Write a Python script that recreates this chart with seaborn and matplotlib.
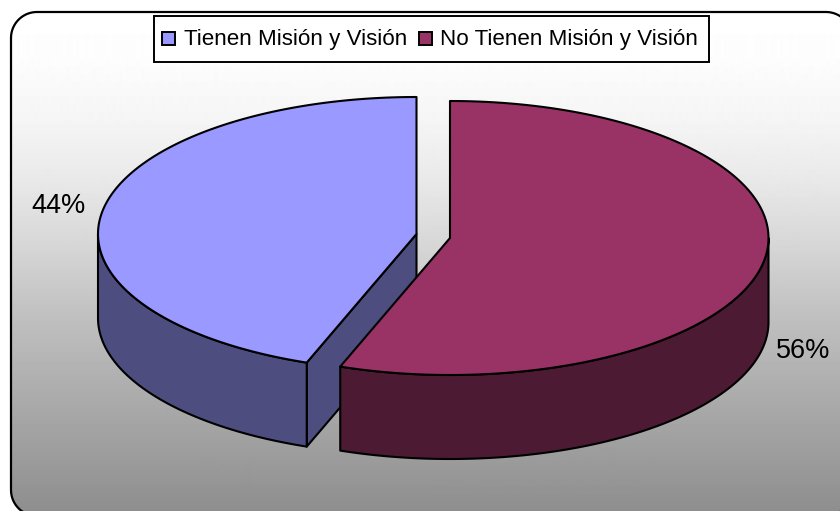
import numpy as np
import pandas as pd
import matplotlib
matplotlib.use('Agg')
import matplotlib.pyplot as plt
from matplotlib.patches import Polygon, Rectangle
import seaborn as sns

labels = ['Tienen Misión y Visión', 'No Tienen Misión y Visión']
values = [44.4, 55.6]
pct_labels = ['44%', '56%']
top_colors = ['#9999FF', '#993366']
side_colors = ['#4D4D80', '#4D1A33']

sns.set_theme(style='white')
plt.rcParams['font.family'] = ['Liberation Sans', 'DejaVu Sans']

W, H = 840, 511
df = pd.DataFrame({'label': labels, 'value': values})

fig = plt.figure(figsize=(W / 100, H / 100), dpi=100)
ax = fig.add_axes([0, 0, 1, 1])
ax.axis('off')


def rounded(x0, y0, x1, y1, r):
    # corners sampled by hand, the curved bbox patch misbehaves past the canvas edge
    out = []
    for cx, cy, a0 in [(x1 - r, y0 + r, 90), (x0 + r, y0 + r, 180), (x0 + r, y1 - r, 270), (x1 - r, y1 - r, 360)]:
        a = np.radians(np.linspace(a0 - 90, a0, 20))
        out.append(np.column_stack([cx + r * np.cos(a), cy - r * np.sin(a)]))
    return np.vstack(out)


# rounded frame with vertical gradient
frame_xy = rounded(11, 12, 852, 516, 26)
grad_y = np.arange(12, 517)
grad_v = np.interp(grad_y, [12, 60, 120, 180, 240, 320, 516], [255, 253, 245, 233, 216, 191, 141]) / 255
im = ax.imshow(grad_v.reshape(-1, 1), extent=(11, 852, 516, 12), cmap='gray', vmin=0, vmax=1,
               aspect='auto', zorder=1)
ax.set_xlim(0, W)
ax.set_ylim(H, 0)
clip = Polygon(frame_xy, closed=True, fc='none', ec='none')
ax.add_patch(clip)
im.set_clip_path(clip)
ax.add_patch(Polygon(frame_xy, closed=True, fc='none', ec='black', lw=1.6, zorder=3))

rx, ry, depth = 318.5, 137, 84
centers = [(416.5, 234), (450, 238)]
fracs = df['value'] / df['value'].sum()
split = np.pi / 2 + 2 * np.pi * fracs[0]


def pt(c, a, dy=0):
    return c[0] + rx * np.cos(a), c[1] - ry * np.sin(a) + dy


def arc(c, a0, a1, dy=0):
    a = np.linspace(a0, a1, 200)
    return np.column_stack([c[0] + rx * np.cos(a), c[1] - ry * np.sin(a) + dy])


kw = dict(ec='black', lw=1.5, joinstyle='round')

# blue slice, 90 deg going counter-clockwise to split
c = centers[0]
ax.add_patch(Polygon(np.vstack([[c], [(c[0], c[1] + depth)], [pt(c, split, depth)], [pt(c, split)]]),
                     fc=side_colors[0], zorder=4, **kw))
ax.add_patch(Polygon(np.vstack([arc(c, np.pi, split), arc(c, split, np.pi, depth)]),
                     fc=side_colors[0], zorder=5, **kw))
ax.add_patch(Polygon(np.vstack([[c], arc(c, np.pi / 2, split)]), fc=top_colors[0], zorder=6, **kw))

# maroon slice, from split going counter-clockwise back to 90 deg
c = centers[1]
ax.add_patch(Polygon(np.vstack([arc(c, split, 2 * np.pi), arc(c, 2 * np.pi, split, depth)]),
                     fc=side_colors[1], zorder=5, **kw))
ax.add_patch(Polygon(np.vstack([[c], arc(c, split, 2.5 * np.pi)]), fc=top_colors[1], zorder=6, **kw))

ax.text(58, 206, pct_labels[0], fontsize=19.5, ha='center', va='center', color='black', zorder=7)
ax.text(803, 351, pct_labels[1], fontsize=19.5, ha='center', va='center', color='black', zorder=7)

# legend box
ax.add_patch(Rectangle((154, 16), 555, 46, fc='white', ec='black', lw=1.4, zorder=7))
ax.add_patch(Rectangle((162, 32), 13, 13, fc=top_colors[0], ec='black', lw=1.4, zorder=8))
ax.text(184, 39, labels[0], fontsize=16.1, ha='left', va='center', color='black', zorder=8)
ax.add_patch(Rectangle((419, 32), 13, 13, fc=top_colors[1], ec='black', lw=1.4, zorder=8))
ax.text(440, 39, labels[1], fontsize=16.1, ha='left', va='center', color='black', zorder=8)

fig.savefig('out.png', dpi=100, facecolor='white')
